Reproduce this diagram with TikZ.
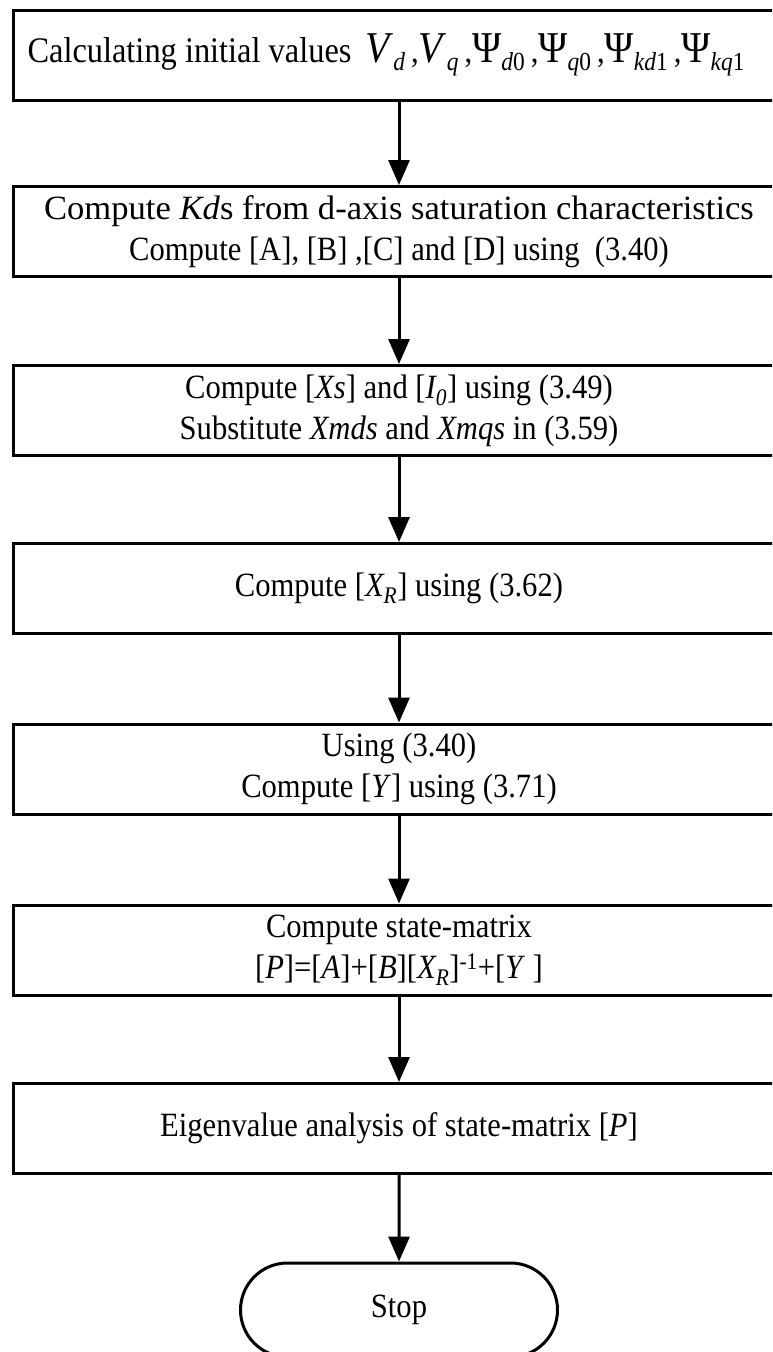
\documentclass[tikz,border=0pt]{standalone}
\usepackage{fontspec}
\setmainfont[FakeStretch=0.9]{Liberation Serif}
\usetikzlibrary{arrows.meta,shapes.misc}
\newcommand{\sbs}[1]{\textsubscript{#1}}
\newcommand{\bigsym}[2]{{\fontsize{44}{46}\selectfont\textit{#1}}\raisebox{-8pt}{\fontsize{26}{28}\selectfont\textit{#2}}}
\newcommand{\bigpsi}[2]{{\fontsize{44}{46}\selectfont Ψ}\raisebox{-8pt}{\fontsize{26}{28}\selectfont\textit{#1}#2}}
\newcommand{\cm}{\hspace{6pt},}
\begin{document}
\begin{tikzpicture}[x=1pt,y=-1pt,
  every node/.style={font=\fontsize{34}{41}\selectfont, align=center, inner sep=0pt},
  procbox/.style={draw, line width=3pt, minimum width=772pt, minimum height=90pt},
  termbox/.style={draw, line width=3pt, rounded rectangle, minimum width=317pt, minimum height=94pt},
  flow/.style={line width=3pt, -{Triangle[length=25pt,width=21pt]}}]
\useasboundingbox (0,0) rectangle (772,1352);
\clip (0,0) rectangle (772,1352);
\node[procbox] (b1) at (399,55) {\hspace*{-26pt}{\fontsize{36}{40}\selectfont Calculating initial values}\hspace{14pt}\bigsym{V}{d}\cm\bigsym{V}{q}\cm\bigpsi{d}{0}\cm\bigpsi{q}{0}\cm\bigpsi{kd}{1}\cm\bigpsi{kq}{1}};
\node[procbox] (b2) at (399,231.5) {\scalebox{1.13}[1]{Compute \textit{Kd}s from d-axis saturation characteristics}\\Compute [A], [B] ,[C] and [D] using~ (3.40)};
\node[procbox] (b3) at (399,410.5) {Compute [\textit{Xs}] and [\textit{I\sbs{0}}] using (3.49)\\Substitute \textit{Xmds} and \textit{Xmqs} in (3.59)};
\node[procbox] (b4) at (399,588.5) {Compute [\textit{X\sbs{R}}] using (3.62)};
\node[procbox] (b5) at (399,769) {Using (3.40)\\Compute [\textit{Y}] using (3.71)};
\node[procbox] (b6) at (399,950) {Compute state-matrix\\{}[\textit{P}]=[\textit{A}]+[\textit{B}][\textit{X\sbs{R}}]\textsuperscript{-1}+[\textit{Y} ]};
\node[procbox] (b7) at (399,1128.5) {Eigenvalue analysis of state-matrix [\textit{P}]};
\node[termbox] (stop) at (399,1310) {Stop};
\draw[flow] (b1) -- (b2);
\draw[flow] (b2) -- (b3);
\draw[flow] (b3) -- (b4);
\draw[flow] (b4) -- (b5);
\draw[flow] (b5) -- (b6);
\draw[flow] (b6) -- (b7);
\draw[flow] (b7) -- (stop);
\end{tikzpicture}
\end{document}
